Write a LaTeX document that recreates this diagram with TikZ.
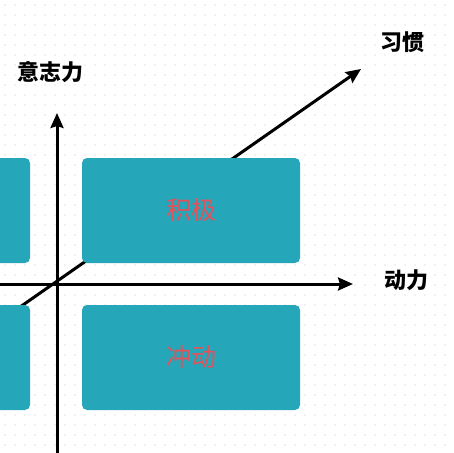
\documentclass[tikz,border=0pt]{standalone}
\usepackage{fontspec}
\newfontfamily\cjk{Noto Sans CJK SC}
\usetikzlibrary{arrows.meta}
\definecolor{tealbox}{HTML}{26A7B9}
\definecolor{boxtext}{HTML}{E0525C}
\definecolor{griddot}{HTML}{E2E2E2}

\begin{document}
\begin{tikzpicture}[x=1pt,y=-1pt,>={Stealth[length=15pt,width=13pt,inset=2pt]},
  box/.style={fill=tealbox,rounded corners=5pt,minimum width=218pt,minimum height=105pt,
    inner sep=0pt,text=boxtext,font=\cjk\fontsize{25}{25}\selectfont},
  axislabel/.style={font=\cjk\bfseries\fontsize{22}{22}\selectfont},
  axisline/.style={line width=3pt}]
  \useasboundingbox (0,0) rectangle (453,453);
  \clip (0,0) rectangle (453,453);
  % dotted background
  \foreach \i in {0,...,44}
    \foreach \j in {0,...,44}
      \fill[griddot] (5+\i*10,5+\j*10) circle (0.9);
  % axes
  \coordinate (origin) at (57,284);
  \coordinate (ytop) at (57,113);
  \coordinate (ybot) at (57,460);
  \coordinate (xleft) at (-5,284);
  \coordinate (xright) at (353,284);
  \coordinate (hstart) at (10,314);
  \coordinate (htip) at (361,69);
  \draw[axisline,->] (hstart) -- (htip);
  \draw[axisline,->] (ybot) -- (ytop);
  \draw[axisline,->] (xleft) -- (xright);
  % quadrants
  \node[box] (lefttop) at (-79,210.5) {};
  \node[box] (leftbot) at (-79,357.5) {};
  \node[box] (jiji) at (191,210.5) {积极};
  \node[box] (chongdong) at (191,357.5) {冲动};
  % labels
  \node[axislabel] (willpower) at (50,72) {意志力};
  \node[axislabel] (habit) at (402,42) {习惯};
  \node[axislabel] (motivation) at (406,280) {动力};
\end{tikzpicture}
\end{document}
